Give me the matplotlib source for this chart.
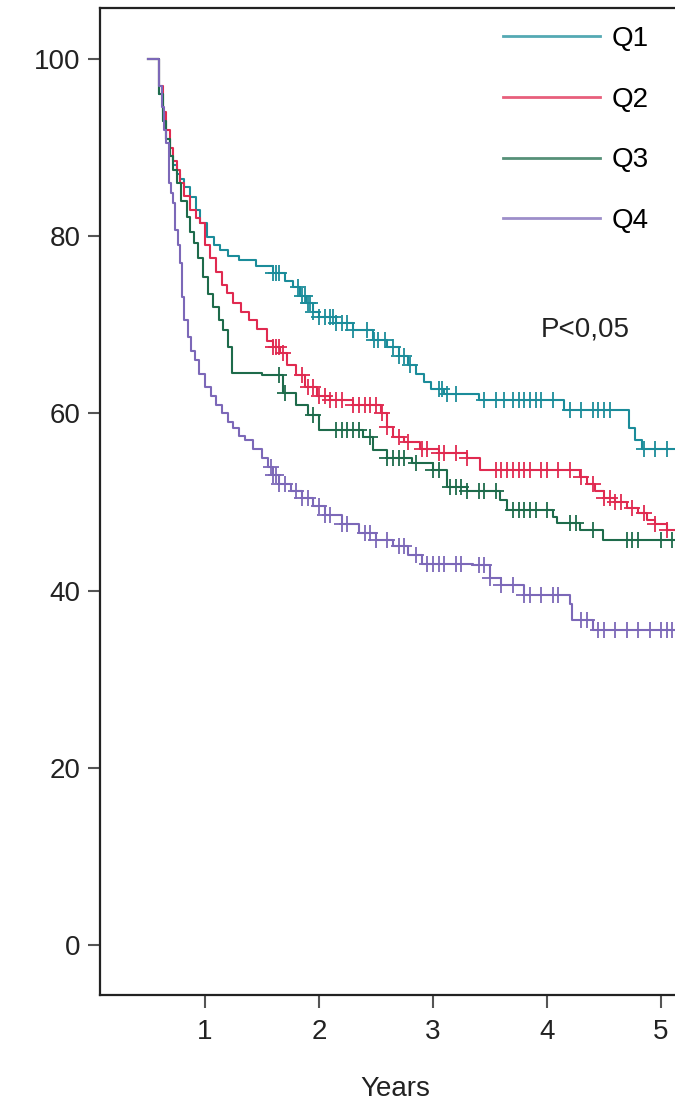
import numpy as np
import matplotlib
matplotlib.use("Agg")
import matplotlib.pyplot as plt

plt.rcParams['font.family'] = ['Liberation Sans', 'DejaVu Sans']

groups = ["Q1", "Q2", "Q3", "Q4"]
colors = ["#1b8c9a", "#e02a50", "#1e6b4b", "#7c68b8"]

q1_t = [0.5,0.6,0.63,0.66,0.69,0.72,0.75,0.78,0.82,0.87,0.92,0.96,1.02,1.08,1.13,1.2,1.3,1.45,1.6,1.7,1.77,1.83,1.89,1.95,2.0,2.15,2.3,2.47,2.6,2.7,2.78,2.85,2.92,2.98,3.1,3.4,4.15,4.72,4.77,4.83,5.3]
q1_v = [100,96,93,91,89,88,87,86.5,85.5,84.4,83,81.5,79.9,79,78.4,77.8,77.3,76.6,75.8,75,74.3,73.3,72.5,71.5,70.9,70.2,69.4,68.3,67.5,66.5,65.5,64.5,63.5,62.8,62.2,61.5,60.4,58.3,57,56,56]
q1_c = [1.6,1.62,1.65,1.82,1.85,1.88,1.9,1.92,1.95,2.0,2.05,2.1,2.12,2.15,2.2,2.25,2.3,2.42,2.48,2.52,2.58,2.65,2.7,2.75,2.8,3.05,3.08,3.12,3.2,3.45,3.55,3.62,3.7,3.75,3.8,3.85,3.9,3.95,4.05,4.2,4.3,4.4,4.45,4.5,4.55,4.85,4.95,5.05]

q2_t = [0.5,0.6,0.63,0.66,0.69,0.72,0.75,0.78,0.82,0.87,0.92,0.96,1.0,1.04,1.1,1.15,1.19,1.25,1.32,1.39,1.46,1.54,1.6,1.66,1.72,1.8,1.88,1.98,2.1,2.3,2.54,2.6,2.65,2.75,2.89,3.05,3.3,3.41,4.29,4.35,4.42,4.5,4.6,4.7,4.8,4.88,4.95,5.05,5.3]
q2_v = [100,97,94,92,90,88.5,87.5,86,84.5,83,82,81.5,79,77.5,76,74.5,73.6,72.5,71.5,70.5,69.5,68.2,67.5,66.8,65.5,64.3,63,62,61.5,61,60,58.5,57.3,56.8,56,55.5,55,53.6,52.8,52,51.2,50.5,50,49.3,48.8,48,47.5,46.8,46.8]
q2_c = [1.6,1.62,1.65,1.68,1.85,1.9,1.95,2.0,2.05,2.1,2.15,2.2,2.3,2.35,2.4,2.45,2.5,2.55,2.6,2.7,2.78,2.9,2.95,3.05,3.1,3.2,3.3,3.55,3.6,3.65,3.7,3.75,3.8,3.85,3.95,4.0,4.1,4.2,4.3,4.4,4.5,4.55,4.6,4.65,4.75,4.85,4.95,5.05]

q3_t = [0.5,0.6,0.63,0.66,0.69,0.72,0.75,0.79,0.84,0.87,0.9,0.94,0.98,1.03,1.07,1.12,1.16,1.2,1.24,1.5,1.68,1.8,1.9,2.0,2.39,2.47,2.6,2.82,3.0,3.12,3.3,3.59,3.65,4.05,4.09,4.29,4.49,5.3]
q3_v = [100,96,93,91,89,87.5,86,84,82.2,80.5,79.2,77.5,75.4,73.5,72,70.5,69.4,67.5,64.6,64.3,62.3,61,59.8,58.1,57.3,55.9,55,54.4,53.6,51.7,51.2,50.2,49.1,48.3,47.6,46.8,45.7,45.7]
q3_c = [1.65,1.7,1.95,2.15,2.2,2.25,2.3,2.35,2.45,2.6,2.65,2.7,2.75,2.85,3.0,3.05,3.15,3.2,3.25,3.3,3.4,3.45,3.55,3.7,3.75,3.8,3.85,3.9,4.0,4.2,4.25,4.4,4.7,4.75,4.8,5.0,5.1]

q4_t = [0.5,0.6,0.62,0.64,0.66,0.68,0.70,0.72,0.74,0.76,0.78,0.8,0.82,0.85,0.88,0.91,0.95,1.0,1.05,1.1,1.15,1.2,1.25,1.3,1.35,1.42,1.5,1.55,1.6,1.65,1.75,1.85,1.95,2.05,2.2,2.35,2.5,2.65,2.78,2.9,3.35,3.5,3.6,3.8,4.2,4.22,4.4,5.3]
q4_v = [100,97,94.6,92,90.5,86,84.9,83.7,80.7,79,77,73.1,70.5,68.6,67,66,64.5,63,62,61,60,59,58.3,57.5,57,56,55,54,53,52,51.2,50.5,49.5,48.5,47.5,46.5,45.7,45,44,43,42.9,41.4,40.6,39.5,38.5,36.7,35.5,35.5]
q4_c = [1.58,1.6,1.62,1.65,1.7,1.8,1.85,1.9,2.0,2.05,2.1,2.2,2.25,2.4,2.45,2.5,2.6,2.7,2.75,2.85,2.95,3.0,3.05,3.1,3.2,3.25,3.4,3.45,3.5,3.6,3.7,3.8,3.85,3.95,4.05,4.1,4.3,4.35,4.45,4.5,4.6,4.7,4.8,4.9,5.0,5.05,5.1]

x_ticks = [1, 2, 3, 4, 5]
y_ticks = [0, 20, 40, 60, 80, 100]
x_label = "Years"
p_text = "P<0,05"

W, H = 675, 1104
FS = 20
fig = plt.figure(figsize=(W/100, H/100), dpi=100)
# axes box in pixels: left 100, right 700 (beyond), top 8, bottom 995
ax = fig.add_axes([100/W, (H-995)/H, 600/W, 987/H])
x_left = 1 + (100 - 205) / 114
x_right = 1 + (700 - 205) / 114
y_bot = -50 / 8.86
y_top = (945 - 8) / 8.86
ax.set_xlim(x_left, x_right)
ax.set_ylim(y_bot, y_top)

series = [(q1_t, q1_v, q1_c), (q2_t, q2_v, q2_c), (q3_t, q3_v, q3_c), (q4_t, q4_v, q4_c)]
handles = []
for (t, v, c), col, name in zip(series, colors, groups):
    t = np.array(t); v = np.array(v); c = np.array(c)
    ln, = ax.step(t, v, where='post', color=col, lw=1.5, label=name, zorder=3)
    idx = np.searchsorted(t, c, side='right') - 1
    ax.plot(c, v[idx], linestyle='none', marker='+', ms=11, mew=1.3, color=col, zorder=3)
    handles.append(ln)

for s in ['left', 'bottom', 'top', 'right']:
    ax.spines[s].set_linewidth(1.6)
    ax.spines[s].set_color('#222222')

ax.set_xticks(x_ticks)
ax.set_yticks(y_ticks)
ax.tick_params(axis='both', direction='out', length=9, width=1.5, color='#555555',
               labelsize=FS, labelcolor='#222222')
ax.tick_params(axis='y', pad=5)
ax.tick_params(axis='x', pad=8)
ax.set_xlabel(x_label, fontsize=FS, color='#222222')
ax.xaxis.set_label_coords((395 - 100) / 600, -(1076 - 995) / 987)

leg = fig.legend(handles=handles, labels=groups, loc='upper left',
                 bbox_to_anchor=(503/W, 1 - 26/H), frameon=False,
                 fontsize=FS, handlelength=3.5, handletextpad=0.4,
                 labelspacing=1.25, borderpad=0, borderaxespad=0)
for lh in leg.get_lines():
    lh.set_linewidth(2.0)
    lh.set_alpha(0.75)

fig.text(585/W, 1 - 330/H, p_text, fontsize=FS, color='#222222', ha='center', va='center')

fig.savefig("out.png", dpi=100)
